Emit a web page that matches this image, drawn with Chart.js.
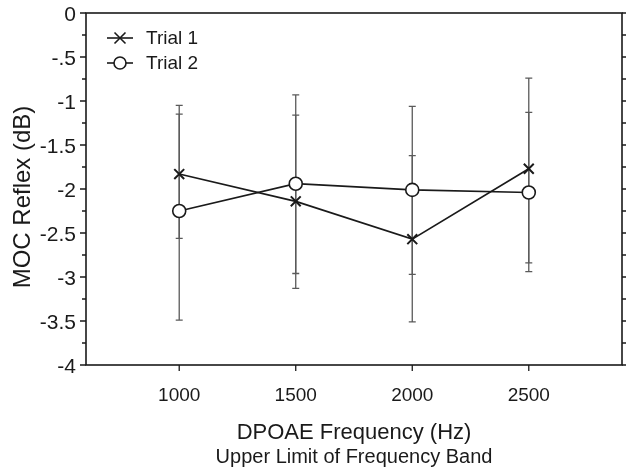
<!DOCTYPE html>
<html>
<head>
<meta charset="utf-8">
<script src="https://cdn.jsdelivr.net/npm/chart.js@4.4.0/dist/chart.umd.min.js"></script>
<style>
    html, body { margin: 0; padding: 0; background: #fff; }
    #wrap { width: 631px; height: 470px; }
</style>
</head>
<body>
<div id="wrap"><canvas id="mocChart" width="631" height="470"></canvas></div>
<script>
// Data
const frequencies = [1000, 1500, 2000, 2500];
const trial1Mean = [-1.83, -2.14, -2.57, -1.77];
const trial1High = [-1.05, -1.16, -1.62, -0.74];
const trial1Low  = [-2.56, -3.13, -3.51, -2.84];
const trial2Mean = [-2.25, -1.94, -2.01, -2.04];
const trial2High = [-1.15, -0.93, -1.06, -1.13];
const trial2Low  = [-3.49, -2.96, -2.97, -2.94];
const yTickValues = [0, -0.5, -1, -1.5, -2, -2.5, -3, -3.5, -4];

const FONT = '"Liberation Sans", Arial, sans-serif';
const INK = '#1a1a1a';
const BAR = '#5a5a5a';

function toPoints(means) {
    return frequencies.map((f, i) => ({ x: f, y: means[i] }));
}

// Error bars, frame, ticks, legend and titles
const decorPlugin = {
    id: 'decor',
    beforeDatasetsDraw(chart) {
        const ctx = chart.ctx;
        const xs = chart.scales.x, ys = chart.scales.y;
        const sets = [[trial1High, trial1Low], [trial2High, trial2Low]];
        ctx.save();
        ctx.strokeStyle = BAR;
        ctx.lineWidth = 1.3;
        sets.forEach(([hi, lo]) => {
            frequencies.forEach((f, i) => {
                const px = xs.getPixelForValue(f);
                const yTop = ys.getPixelForValue(hi[i]);
                const yBot = ys.getPixelForValue(lo[i]);
                ctx.beginPath();
                ctx.moveTo(px, yTop); ctx.lineTo(px, yBot);
                ctx.moveTo(px - 3.5, yTop); ctx.lineTo(px + 3.5, yTop);
                ctx.moveTo(px - 3.5, yBot); ctx.lineTo(px + 3.5, yBot);
                ctx.stroke();
            });
        });
        ctx.restore();
    },
    afterDraw(chart) {
        const ctx = chart.ctx;
        const area = chart.chartArea;
        const xs = chart.scales.x, ys = chart.scales.y;
        ctx.save();
        ctx.strokeStyle = INK;
        ctx.lineWidth = 1.6;
        ctx.strokeRect(area.left, area.top, area.right - area.left, area.bottom - area.top);

        // y ticks every 0.25, left outward and right outward
        ctx.lineWidth = 1.3;
        for (let v = 0; v >= -4; v -= 0.25) {
            const py = ys.getPixelForValue(v);
            const major = Math.abs(v * 2 - Math.round(v * 2)) < 1e-6;
            const len = major ? 6 : 4;
            ctx.beginPath();
            ctx.moveTo(area.left - len, py); ctx.lineTo(area.left, py);
            ctx.moveTo(area.right, py); ctx.lineTo(area.right + 4, py);
            ctx.stroke();
        }
        // x ticks downward
        frequencies.forEach(f => {
            const px = xs.getPixelForValue(f);
            ctx.beginPath();
            ctx.moveTo(px, area.bottom); ctx.lineTo(px, area.bottom + 6);
            ctx.stroke();
        });

        // legend
        const legend = [
            { label: 'Trial 1', style: 'crossRot', y: 38 },
            { label: 'Trial 2', style: 'circle', y: 63 }
        ];
        ctx.font = '19px ' + FONT;
        ctx.textBaseline = 'middle';
        ctx.textAlign = 'left';
        legend.forEach(item => {
            ctx.strokeStyle = INK;
            ctx.lineWidth = 1.6;
            ctx.beginPath();
            ctx.moveTo(107, item.y); ctx.lineTo(133, item.y);
            ctx.stroke();
            if (item.style === 'circle') {
                ctx.fillStyle = '#fff';
                ctx.beginPath();
                ctx.arc(120, item.y, 6, 0, Math.PI * 2);
                ctx.fill(); ctx.stroke();
            } else {
                ctx.beginPath();
                ctx.moveTo(114.5, item.y - 5.5); ctx.lineTo(125.5, item.y + 5.5);
                ctx.moveTo(114.5, item.y + 5.5); ctx.lineTo(125.5, item.y - 5.5);
                ctx.stroke();
            }
            ctx.fillStyle = INK;
            ctx.fillText(item.label, 146, item.y + 1);
        });

        // axis titles
        ctx.fillStyle = INK;
        ctx.textAlign = 'center';
        ctx.font = '22px ' + FONT;
        ctx.fillText('DPOAE Frequency (Hz)', (area.left + area.right) / 2, 433);
        ctx.font = '20px ' + FONT;
        ctx.fillText('Upper Limit of Frequency Band', (area.left + area.right) / 2, 457);
        ctx.save();
        ctx.translate(23, 197);
        ctx.rotate(-Math.PI / 2);
        ctx.font = '24px ' + FONT;
        ctx.fillText('MOC Reflex (dB)', 0, 0);
        ctx.restore();
        ctx.restore();
    }
};

new Chart(document.getElementById('mocChart'), {
    type: 'line',
    data: {
        datasets: [
            {
                label: 'Trial 1',
                data: toPoints(trial1Mean),
                borderColor: INK,
                borderWidth: 1.7,
                pointStyle: 'crossRot',
                pointRadius: 7,
                pointBorderWidth: 2,
                pointBorderColor: INK,
                tension: 0
            },
            {
                label: 'Trial 2',
                data: toPoints(trial2Mean),
                borderColor: INK,
                borderWidth: 1.7,
                pointStyle: 'circle',
                pointRadius: 6.5,
                pointBorderWidth: 1.6,
                pointBorderColor: INK,
                pointBackgroundColor: '#fff',
                tension: 0
            }
        ]
    },
    options: {
        responsive: false,
        animation: false,
        layout: { padding: { top: 13, right: 3, left: 0, bottom: 0 } },
        plugins: {
            legend: { display: false },
            tooltip: { enabled: false }
        },
        scales: {
            x: {
                type: 'linear',
                min: 600,
                max: 2900,
                afterBuildTicks: axis => { axis.ticks = frequencies.map(v => ({ value: v })); },
                afterFit: axis => { axis.height = 105; axis.paddingLeft = 0; axis.paddingRight = 0; },
                grid: { display: false, drawTicks: false },
                border: { display: false },
                ticks: {
                    padding: 19,
                    color: INK,
                    font: { family: FONT, size: 19 },
                    callback: v => String(v)
                }
            },
            y: {
                min: -4,
                max: 0,
                afterBuildTicks: axis => { axis.ticks = yTickValues.map(v => ({ value: v })); },
                afterFit: axis => { axis.width = 86; axis.paddingTop = 0; axis.paddingBottom = 0; },
                grid: { display: false, drawTicks: false },
                border: { display: false },
                ticks: {
                    padding: 10,
                    labelOffset: 2,
                    color: INK,
                    font: { family: FONT, size: 21 },
                    callback: v => (v === 0 ? '0' : String(v).replace('-0.', '-.'))
                }
            }
        }
    },
    plugins: [decorPlugin]
});
</script>
</body>
</html>
